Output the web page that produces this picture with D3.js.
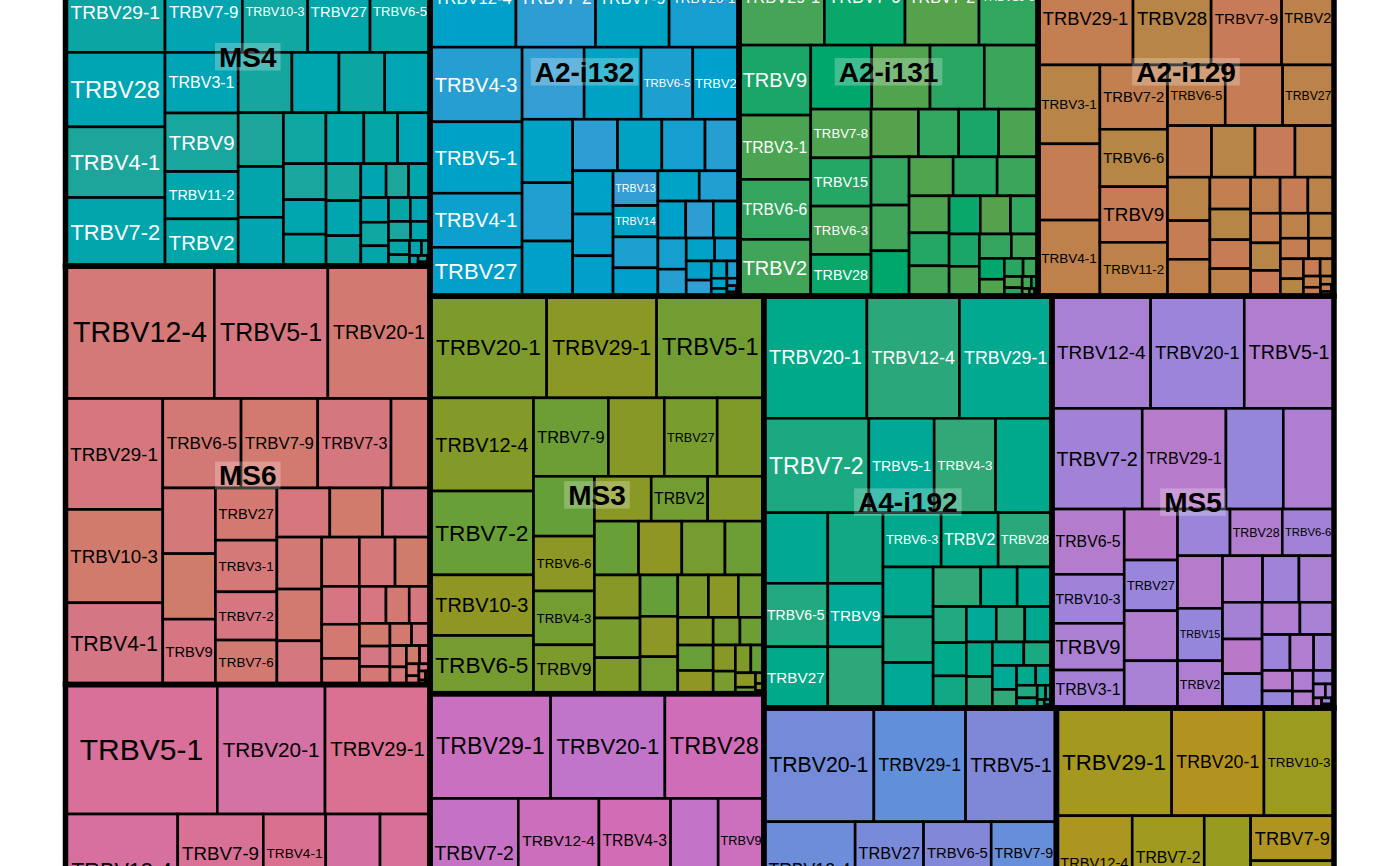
<!DOCTYPE html>
<html><head><meta charset="utf-8">
<script src="https://cdn.jsdelivr.net/npm/d3@7"></script>
<style>html,body{margin:0;padding:0;background:#fff;overflow:hidden}</style>
</head><body>
<svg id="chart" width="1400" height="866"></svg>
<script>
// ---------------- data (cell counts per sample, TRBV gene labels; "" = unlabelled cell) ----------------
const ms4Genes = ["","","","TRBV29-1","TRBV28","TRBV4-1","TRBV7-2","TRBV7-9","TRBV10-3","TRBV27","TRBV6-5","TRBV3-1","TRBV9","TRBV11-2","TRBV2"];
const ms4Counts = [17032,15000,13016,8089,7413,7035,6816,6284,5317,5065,4878,4435,4281,3460,3452,3243,2839,2760,2736,2434,2298,2207,2163,1931,1725,1648,1533,1470,1358,1284,1218,1055,858,760,729,682,651,560,520,470,420,370,300,240,180,130,90,60,40,25];

const ms6Genes = ["TRBV12-4","TRBV5-1","TRBV20-1","TRBV29-1","TRBV10-3","TRBV4-1","TRBV6-5","TRBV7-9","TRBV7-3","","","","TRBV9","TRBV27","TRBV3-1","TRBV7-2","TRBV7-6"];
const ms6Counts = [19714,15043,13534,10789,9078,7951,7000,6857,6553,3487,3460,3450,3440,3211,3174,2966,2732,2600,2590,2337,2330,2320,1960,1854,1760,1726,1429,1290,985,980,860,770,690,620,550,480,410,350,290,240,190,150,110,80,60,40,30,20];

const blGenes = ["TRBV5-1","TRBV20-1","TRBV29-1","TRBV12-4","","","TRBV7-9","TRBV4-1"];
const blCounts = [19658,13947,13598,12566,8600,8118,6677,4867,4235,3900,3858,3690,3565,3410,3215,3120,2940,2810,2640,2510,2290,2110,1890,1710,1490,1310,1090,910,560,420,300,200,120];

const a2i132Genes = ["","","","TRBV12-4","TRBV7-2","TRBV7-9","TRBV20-1","TRBV4-3","TRBV5-1","TRBV4-1","TRBV27","","","TRBV6-5","TRBV2","","","","","","","","","","","TRBV13","TRBV14"];
const a2i132Counts = [11200,10300,9696,8480,7858,7257,6900,6870,6575,4979,4490,4470,4104,3722,3334,3208,2950,2783,2313,2282,2226,1752,1745,1685,1628,1560,1404,1390,1268,1250,1205,1028,1020,950,880,760,650,560,480,400,270,210,160,120,90,60,40,25];

const a2i131Genes = ["","","","TRBV29-1","TRBV7-9","TRBV7-2","TRBV10-3","TRBV9","TRBV3-1","TRBV6-6","TRBV2","","","","","TRBV7-8","TRBV15","TRBV6-3","TRBV28"];
const a2i131Counts = [11000,10000,9377,8189,7747,7104,5664,5019,4610,4302,4065,3904,3731,3475,3437,2937,2912,2912,2515,2256,1920,1900,1880,1835,1737,1721,1720,1716,1595,1480,1320,1212,1190,1150,1050,980,900,780,650,520,420,340,270,200,150,110,80,55,40,25];

const a2i129Genes = ["","","","TRBV29-1","TRBV28","TRBV7-9","TRBV2","TRBV3-1","","TRBV4-1","TRBV7-2","TRBV6-6","TRBV9","TRBV11-2","TRBV6-5","","TRBV27"];
const a2i129Counts = [13500,12000,11158,8891,7305,6596,4900,4880,4720,4700,4353,3886,3764,3635,3500,3486,3114,2270,2239,2064,2012,1840,1637,1556,1300,1250,1180,1120,1060,1000,940,880,820,760,700,640,580,520,460,400,290,240,190,150,110,80,50,30];

const ms3Genes = ["TRBV20-1","TRBV29-1","TRBV5-1","TRBV12-4","TRBV7-2","TRBV10-3","TRBV6-5","TRBV7-9","","TRBV27","","","TRBV6-6","TRBV4-3","TRBV9","","TRBV2"];
const ms3Counts = [11868,11187,10912,9638,8677,6270,6022,5873,4385,4150,3657,3642,3339,3278,2974,2548,2534,2517,2374,2326,2321,2090,1966,1812,1644,1560,1522,1395,1300,1270,1080,980,900,820,740,660,580,500,430,360,290,130,90,60,25];

const bmGenes = ["TRBV29-1","TRBV20-1","TRBV28","TRBV7-2","","","TRBV12-4","TRBV4-3","","TRBV9"];
const bmCounts = [12637,11967,10365,9713,7500,7184,6722,5973,3965,3807,3781,3580,3470,3290,3160,2990,2860,2690,2560,2390,2260,2090,1960,1790,1660,1340,1210,1040,910,740,610,450,230,170,90,70,30];

const a4i192Genes = ["TRBV20-1","TRBV12-4","TRBV29-1","TRBV7-2","TRBV5-1","TRBV4-3","","","TRBV6-5","TRBV27","","TRBV9","","TRBV6-3","TRBV2","TRBV28"];
const a4i192Counts = [12597,11310,11300,9912,6164,5796,5315,4518,4058,3923,3900,3500,3380,3154,3094,2916,2500,2290,2280,1886,1442,1376,1198,1102,1066,1060,1010,960,900,820,740,660,580,450,380,320,260,210,120,90,60,40,25];

const ms5Genes = ["TRBV12-4","TRBV20-1","TRBV5-1","TRBV7-2","TRBV29-1","","","TRBV6-5","TRBV10-3","TRBV9","TRBV3-1","","TRBV27","","","","TRBV28","TRBV6-6","","TRBV15","TRBV2"];
const ms5Counts = [11084,10511,10073,9093,8429,5770,5105,4721,3543,3376,2747,2718,2702,2665,2521,2450,2440,2414,2367,2358,2129,1864,1692,1631,1453,1370,1362,1220,1100,1000,850,730,620,520,430,350,280,170,120,85,60,40,25];

const br1Genes = ["TRBV20-1","TRBV29-1","TRBV5-1","TRBV12-4","","","TRBV27","TRBV6-5","TRBV7-9"];
const br1Counts = [12507,10426,10324,8820,7300,7006,4241,4191,4042,3900,3620,3280,3060,2790,2560,2310,2190,2090,1910,1690,1510,1310,1160,990,870,720,610,500,400,310,230,160,130,100,60,30];

const br2Genes = ["TRBV29-1","TRBV20-1","TRBV10-3","TRBV12-4","","","TRBV7-2","","TRBV7-9"];
const br2Counts = [12407,9941,7539,7095,6400,6160,6048,3898,3749,3249,3150,2950,2880,2750,2560,2380,2200,2030,1870,1710,1560,1410,1270,1130,1000,870,750,640,540,450,370,290,220,160,110,70,40];

// samples ("" = sample whose label lies outside the visible window)
const groupNames  = ["MS4","MS6","","A2-i132","A2-i131","A2-i129","MS3","","A4-i192","MS5","",""];
const groupGenes  = [ms4Genes,ms6Genes,blGenes,a2i132Genes,a2i131Genes,a2i129Genes,ms3Genes,bmGenes,a4i192Genes,ms5Genes,br1Genes,br2Genes];
const groupCounts = [ms4Counts,ms6Counts,blCounts,a2i132Counts,a2i131Counts,a2i129Counts,ms3Counts,bmCounts,a4i192Counts,ms5Counts,br1Counts,br2Counts];

// ---------------- styles ----------------
const groupFill = ["#00A6A8","#D47878","#D8709A","#00A0CC","#3AA55B","#C0804E","#7C9B2C","#CA70C0","#00A987","#A880D4","#738BD9","#A5981E"];
const groupInk  = ["#ffffff","#000000","#000000","#ffffff","#ffffff","#000000","#000000","#000000","#ffffff","#000000","#000000","#000000"];
const hueShift = [0,-8,6,-4,10,-11,3,8,-6,2,-2,12,-9,5];
const FONT = "'Liberation Sans', Arial, Helvetica, sans-serif";

const frame = {left: 65.5, top: -152.5, width: 1268.5, height: 1227.5};

// ---------------- pivot-by-size tiling ----------------
function place(nodes, x0, y0, x1, y1) {
  const n = nodes.length;
  if (!n) return;
  if (n === 1) { const d = nodes[0]; d.x0 = x0; d.y0 = y0; d.x1 = x1; d.y1 = y1; return; }
  const total = d3.sum(nodes, d => d.value);
  const p = d3.maxIndex(nodes, d => d.value);
  const pv = nodes[p].value;
  const before = nodes.slice(0, p), after = nodes.slice(p + 1);
  const w = x1 - x0, h = y1 - y0;
  const wide = w >= h;
  const L = wide ? w : h, T = wide ? h : w;
  const s1 = d3.sum(before, d => d.value);
  let best = Infinity, bestK = 0, acc = pv;
  for (let k = 0; k <= after.length; k++) {
    if (k > 0) acc += after[k - 1].value;
    const band = L * acc / total, pl = T * pv / acc;
    const r = Math.max(band / pl, pl / band);
    if (r < best) { best = r; bestK = k; }
  }
  const mid = after.slice(0, bestK), rest = after.slice(bestK);
  const accB = pv + d3.sum(mid, d => d.value);
  const a1 = L * s1 / total, band = L * accB / total, pl = T * pv / accB;
  const pd = nodes[p];
  if (wide) {
    place(before, x0, y0, x0 + a1, y1);
    const bx0 = x0 + a1, bx1 = bx0 + band;
    pd.x0 = bx0; pd.x1 = bx1; pd.y0 = y0; pd.y1 = y0 + pl;
    place(mid, bx0, y0 + pl, bx1, y1);
    place(rest, bx1, y0, x1, y1);
  } else {
    place(before, x0, y0, x1, y0 + a1);
    const by0 = y0 + a1, by1 = by0 + band;
    pd.x0 = x0; pd.x1 = x0 + pl; pd.y0 = by0; pd.y1 = by1;
    place(mid, x0 + pl, by0, x1, by1);
    place(rest, x0, by1, x1, y1);
  }
}
function pivotBySize(parent, x0, y0, x1, y1) { place(parent.children, x0, y0, x1, y1); }

// ---------------- hierarchy ----------------
const rootData = {children: groupNames.map((g, gi) => ({
  name: g, gi,
  children: groupCounts[gi].map((v, i) => ({gene: groupGenes[gi][i] || "", value: v, gi, i}))
}))};
const root = d3.hierarchy(rootData)
  .sum(d => d.children ? 0 : d.value)
  .sort((a, b) => b.value - a.value);
d3.treemap().tile(pivotBySize).size([frame.width, frame.height])(root);

// ---------------- drawing ----------------
const svg = d3.select("#chart");
svg.append("rect").attr("width", 1400).attr("height", 866).attr("fill", "#ffffff");
const g = svg.append("g").attr("transform", `translate(${frame.left},${frame.top})`);

const ctx = document.createElement("canvas").getContext("2d");
function emWidth(s, weight) { ctx.font = `${weight || "normal"} 100px ${FONT}`; return ctx.measureText(s).width / 100; }

function cellColor(gi, i) {
  const c = d3.hcl(groupFill[gi]);
  c.h += hueShift[i % hueShift.length];
  return c.formatHex();
}

const leaves = root.leaves();
g.append("g").selectAll("rect").data(leaves).join("rect")
  .attr("x", d => d.x0).attr("y", d => d.y0)
  .attr("width", d => Math.max(0, d.x1 - d.x0)).attr("height", d => Math.max(0, d.y1 - d.y0))
  .attr("fill", d => cellColor(d.data.gi, d.data.i))
  .attr("stroke", "#000").attr("stroke-width", 2.6);

const labelled = leaves.filter(d => d.data.gene);
g.append("g").selectAll("text").data(labelled).join("text")
  .each(function(d) {
    const w = d.x1 - d.x0, h = d.y1 - d.y0;
    const fs = Math.min(30, 0.9 * w / emWidth(d.data.gene), 0.55 * h);
    d3.select(this)
      .attr("x", (d.x0 + d.x1) / 2)
      .attr("y", (d.y0 + d.y1) / 2 + 0.355 * fs)
      .attr("font-size", fs.toFixed(2));
  })
  .attr("text-anchor", "middle")
  .attr("font-family", FONT)
  .attr("fill", d => groupInk[d.data.gi])
  .text(d => d.data.gene);

const groups = root.children;
g.append("g").selectAll("rect").data(groups).join("rect")
  .attr("x", d => d.x0).attr("y", d => d.y0)
  .attr("width", d => d.x1 - d.x0).attr("height", d => d.y1 - d.y0)
  .attr("fill", "none").attr("stroke", "#000").attr("stroke-width", 5.5);

const named = groups.filter(d => d.data.name);
const lab = g.append("g").selectAll("g").data(named).join("g")
  .attr("transform", d => `translate(${(d.x0 + d.x1) / 2},${(d.y0 + d.y1) / 2})`);
lab.append("rect")
  .attr("x", d => -emWidth(d.data.name, "bold") * 28 / 2 - 4)
  .attr("y", -13.75)
  .attr("width", d => emWidth(d.data.name, "bold") * 28 + 8)
  .attr("height", 27.5)
  .attr("fill", "#ffffff").attr("fill-opacity", 0.25);
lab.append("text")
  .attr("text-anchor", "middle")
  .attr("y", 10)
  .attr("font-family", FONT).attr("font-weight", "bold").attr("font-size", 28)
  .attr("fill", "#000")
  .text(d => d.data.name);
</script>
</body></html>
